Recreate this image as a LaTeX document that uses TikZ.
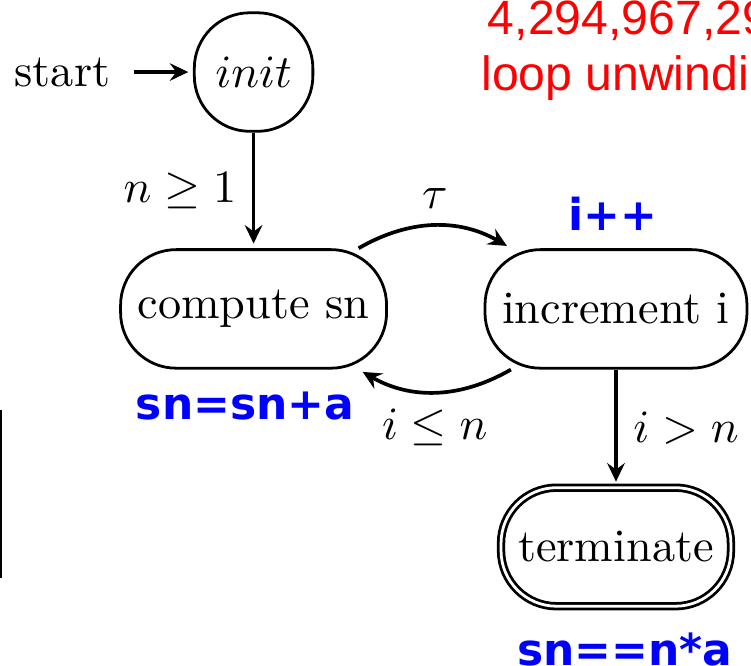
\documentclass[tikz,border=0pt]{standalone}
\usepackage{fontspec}
\usepackage{amsmath,amssymb}
\usepackage{xcolor}
\usetikzlibrary{arrows.meta,positioning}
\newfontfamily\annsans{DejaVu Sans}
\newfontfamily\notesans{Liberation Sans}
\definecolor{annblue}{RGB}{0,0,255}
\definecolor{notered}{RGB}{255,0,0}

\begin{document}
\begin{tikzpicture}[>={Stealth[length=4pt,width=3.8pt,inset=1.4pt]}, semithick,
    stbox/.style={draw, rectangle, rounded corners=12pt, minimum height=0.9cm, inner xsep=3.7pt},
    ann/.style={text=annblue, font=\annsans\bfseries\fontsize{9.5}{11}\selectfont}]
    \useasboundingbox (0,0) rectangle (5.701,5.055);
    \clip (0,0) rectangle (5.701,5.055);

    \node[stbox, minimum width=0.9cm] (init) at (1.925,4.508) {$init$};
    \node (start) at (0.474,4.508) {start};
    \node[stbox] (compute) at (1.925,2.71) {compute sn};
    \node[stbox] (incr) at (4.676,2.71) {increment i};
    \node[stbox, double, double distance=0.6pt] (term) at (4.676,0.903) {terminate};

    % annotations
    \node[ann] (incnote) at (4.653,3.431) {i++};
    \node[ann] (sumnote) at (1.860,1.973) {sn=sn+a};
    \node[ann] (endnote) at (4.744,0.125) {sn==n*a};
    \node[text=notered, font=\notesans\fontsize{10.4}{11.9}\selectfont, align=center, anchor=base] (bound) at (4.873,4.371) {4,294,967,295\\loop unwinding};

    \draw[->, thick, shorten <=1.5pt, shorten >=1pt] (start) -- (init);
    \draw[->, thick, shorten >=1pt] (init) -- node[left] {$n \geq 1$} (compute);
    \draw[->, thick, shorten >=1pt] (compute) to[bend left=30] node[above] {$\tau$} (incr);
    \draw[->, thick, shorten >=1pt] (incr) to[bend left=30] node[below] {$i \leq n$} (compute);
    \draw[->, thick, shorten >=1pt] (incr) -- node[right] {$i > n$} (term);

    \draw (0.006,1.943) -- (0.006,0.668);
\end{tikzpicture}
\end{document}
